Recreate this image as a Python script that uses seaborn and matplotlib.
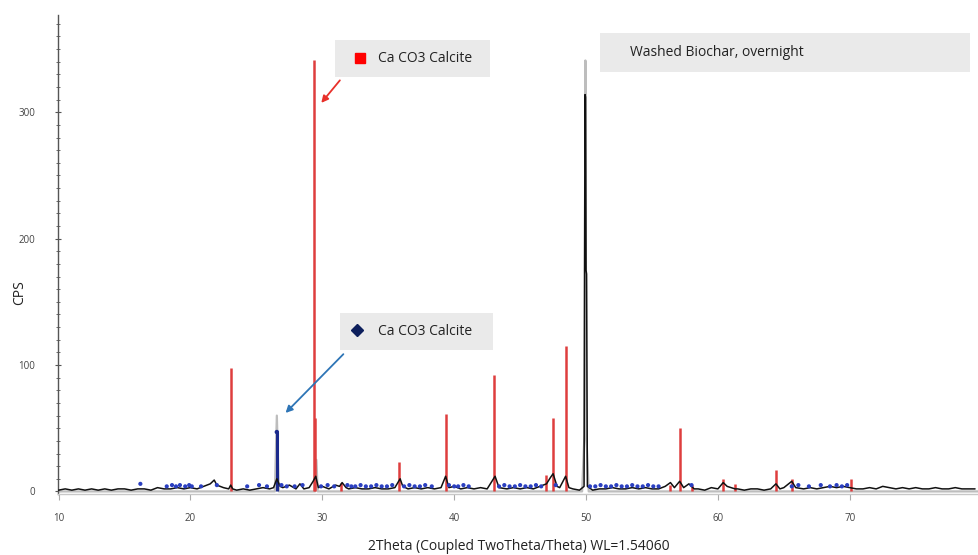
import matplotlib
matplotlib.use("Agg")
import matplotlib.pyplot as plt
import seaborn as sns
import pandas as pd
from matplotlib.patches import Rectangle
from matplotlib.ticker import MultipleLocator

# ---------------- data ----------------
obs_2theta = [10.0, 10.5, 11.0, 11.5, 12.0, 12.5, 13.0, 13.5, 14.0, 14.5, 15.0, 15.5, 16.0, 16.5,
              17.0, 17.5, 18.0, 18.5, 19.0, 19.5, 20.0, 20.5, 21.0, 21.5, 21.8, 22.0, 22.5, 22.9,
              23.05, 23.2, 23.5, 24.0, 24.5, 25.0, 25.5, 26.0, 26.3, 26.55, 26.8, 27.0, 27.5, 28.0,
              28.3, 28.6, 29.0, 29.3, 29.5, 29.7, 30.0, 30.5, 31.0, 31.3, 31.5, 31.8, 32.0, 32.5,
              33.0, 33.5, 34.0, 34.5, 35.0, 35.5, 35.9, 36.1, 36.5, 37.0, 37.5, 38.0, 38.5, 39.0,
              39.35, 39.6, 40.0, 40.5, 41.0, 41.5, 42.0, 42.5, 43.1, 43.4, 44.0, 44.5, 45.0, 45.5,
              46.0, 46.5, 47.0, 47.3, 47.5, 47.8, 48.0, 48.45, 48.7, 49.0, 49.5, 49.85, 49.92, 49.96,
              50.0, 50.04, 50.1, 50.5, 51.0, 51.5, 52.0, 52.5, 53.0, 53.5, 54.0, 54.5, 55.0, 55.5,
              56.0, 56.4, 56.7, 57.1, 57.4, 57.8, 58.2, 58.5, 59.0, 59.5, 60.0, 60.4, 60.7, 61.0,
              61.3, 61.5, 62.0, 62.5, 63.0, 63.5, 64.0, 64.4, 64.7, 65.0, 65.6, 65.9, 66.5, 67.0,
              67.5, 68.0, 68.5, 69.0, 69.5, 70.0, 70.5, 71.0, 71.5, 72.0, 72.5, 73.0, 73.5, 74.0,
              74.5, 75.0, 75.5, 76.0, 76.5, 77.0, 77.5, 78.0, 78.5, 79.0, 79.5]
obs_cps = [1, 2, 1, 2, 1, 2, 1, 2, 1, 2, 2, 1, 2, 2,
           1, 3, 2, 2, 3, 2, 3, 2, 4, 6, 9, 5, 3, 2,
           5, 2, 1, 2, 1, 2, 3, 2, 3, 10, 4, 3, 5, 2,
           6, 2, 3, 8, 12, 3, 4, 2, 5, 4, 7, 3, 2, 3,
           2, 2, 3, 2, 2, 3, 10, 4, 2, 3, 2, 3, 2, 3,
           12, 3, 4, 2, 3, 2, 3, 2, 12, 3, 2, 3, 2, 3,
           2, 4, 6, 11, 14, 4, 3, 12, 3, 2, 1, 4, 314, 312,
           175, 172, 4, 1, 2, 2, 3, 2, 2, 3, 2, 3, 2, 2,
           4, 7, 3, 8, 3, 6, 2, 2, 1, 3, 2, 7, 4, 3,
           2, 2, 1, 2, 2, 1, 2, 6, 2, 3, 8, 3, 2, 3,
           2, 3, 4, 3, 4, 3, 2, 2, 3, 2, 4, 3, 2, 3,
           2, 3, 2, 2, 3, 2, 2, 3, 2, 2, 2]

grey_2theta = [10.0, 26.4, 26.55, 26.7, 29.45, 29.55, 29.65, 49.7, 49.88, 49.95, 50.02, 50.2, 79.8]
grey_cps = [0, 0, 60, 0, 0, 25, 0, 0, 45, 341, 45, 0, 0]

calcite_2theta = [23.05, 29.35, 29.45, 31.45, 35.85, 39.35, 43.05, 47.0, 47.5, 48.45,
                  56.35, 57.15, 58.0, 60.4, 61.3, 64.4, 65.6, 70.1]
calcite_cps = [98, 341, 58, 7, 23, 61, 92, 13, 58, 115,
               5, 50, 5, 9.5, 5.5, 16.6, 9.5, 9.5]

blue_stick_2theta = [26.55]
blue_stick_cps = [47]

blue_2theta = [16.2, 18.2, 18.6, 18.9, 19.2, 19.6, 19.9, 20.1, 20.8, 22.0, 24.3, 25.2, 25.8,
               26.9, 27.3, 27.9, 28.5, 29.9, 30.4, 30.9, 31.9, 32.2, 32.5, 32.9, 33.3, 33.7,
               34.1, 34.5, 34.9, 35.3, 36.2, 36.6, 37.0, 37.4, 37.8, 38.3, 39.6, 40.0, 40.3,
               40.7, 41.1, 43.4, 43.8, 44.2, 44.6, 45.0, 45.4, 45.8, 46.2, 46.6, 47.7, 50.3,
               50.7, 51.1, 51.5, 51.9, 52.3, 52.7, 53.1, 53.5, 53.9, 54.3, 54.7, 55.1, 55.5,
               58.0, 65.6, 66.1, 66.9, 67.8, 68.5, 69.0, 69.4, 69.8]
blue_cps = [6, 4, 5, 4, 5, 4, 5, 4, 4, 5, 4, 5, 4,
            5, 4, 4, 5, 4, 5, 4, 5, 4, 4, 5, 4, 4,
            5, 4, 4, 5, 4, 5, 4, 4, 5, 4, 5, 4, 4,
            5, 4, 4, 5, 4, 4, 5, 4, 4, 5, 4, 5, 4,
            4, 5, 4, 4, 5, 4, 4, 5, 4, 4, 5, 4, 4,
            5, 4, 5, 4, 5, 4, 5, 4, 5]

x_ticks = [10, 20, 30, 40, 50, 60, 70]
y_ticks = [0, 100, 200, 300]

# ---------------- plotting ----------------
sns.set_style("white")
plt.rcParams['font.family'] = ['Open Sans', 'DejaVu Sans']

fig = plt.figure(figsize=(9.79, 5.55), dpi=100)
ax = fig.add_axes([0.0592, 0.110, 0.9408, 0.863])

df_grey = pd.DataFrame({"x": grey_2theta, "y": grey_cps})
df_obs = pd.DataFrame({"x": obs_2theta, "y": obs_cps})
df_blue = pd.DataFrame({"x": blue_2theta, "y": blue_cps})

sns.lineplot(data=df_grey, x="x", y="y", ax=ax, color="#BDBDBD", lw=1.6,
             sort=False, estimator=None)
ax.vlines(calcite_2theta, 0, calcite_cps, color="#DE3E3E", lw=1.8, zorder=3)
ax.vlines(blue_stick_2theta, 0, blue_stick_cps, color="#1B2A8C", lw=2.2, zorder=3)
sns.scatterplot(x=blue_stick_2theta, y=blue_stick_cps, ax=ax, color="#1B2A8C", s=10,
                edgecolor="none", zorder=4)
sns.lineplot(data=df_obs, x="x", y="y", ax=ax, color="#111111", lw=1.1,
             sort=False, estimator=None, zorder=4)
sns.scatterplot(data=df_blue, x="x", y="y", ax=ax, color="#2A3FC0", s=9,
                edgecolor="none", zorder=5)

ax.set_xlim(9.95, 79.8)
ax.set_ylim(-2, 377)
ax.set_xticks(x_ticks)
ax.set_yticks(y_ticks)
ax.yaxis.set_minor_locator(MultipleLocator(10))

for s in ["top", "right"]:
    ax.spines[s].set_visible(False)
ax.spines["left"].set_color("#555555")
ax.spines["left"].set_linewidth(1.0)
ax.spines["bottom"].set_color("#C8C8C8")
ax.spines["bottom"].set_linewidth(1.0)

ax.tick_params(axis="y", which="major", direction="inout", length=5, width=0.8,
               color="#555555", labelsize=7, labelcolor="#444444", pad=14, left=True)
ax.tick_params(axis="y", which="minor", direction="inout", length=3, width=0.6,
               color="#555555", left=True)
ax.tick_params(axis="x", which="major", direction="out", length=4, width=0.8,
               color="#AAAAAA", labelsize=7, labelcolor="#444444", pad=10, bottom=True)

ax.set_xlabel("2Theta (Coupled TwoTheta/Theta) WL=1.54060", fontsize=10, color="#222222")
ax.set_ylabel("CPS", fontsize=10, color="#222222")
ax.xaxis.set_label_coords(0.50, -0.094)
ax.yaxis.set_label_coords(-0.034, 0.42)

# Annotation boxes
ax.add_patch(Rectangle((0.588, 0.881), 0.402, 0.081, transform=ax.transAxes,
                       facecolor="#EAEAEA", edgecolor="none", zorder=6))
ax.text(0.621, 0.921, "Washed Biochar, overnight", transform=ax.transAxes, fontsize=10,
        color="#222222", va="center", ha="left", zorder=7)

ax.add_patch(Rectangle((0.301, 0.871), 0.168, 0.077, transform=ax.transAxes,
                       facecolor="#EAEAEA", edgecolor="none", zorder=6))
ax.plot([0.328], [0.910], marker="s", color="#FF0000", ms=7, transform=ax.transAxes,
        zorder=7, linestyle="none")
ax.text(0.347, 0.910, "Ca CO3 Calcite", transform=ax.transAxes, fontsize=10,
        color="#222222", va="center", ha="left", zorder=7)
ax.annotate("", xy=(0.284, 0.812), xytext=(0.308, 0.868), xycoords="axes fraction",
            textcoords="axes fraction",
            arrowprops=dict(arrowstyle="-|>", color="#E8302A", lw=1.3, mutation_scale=10),
            zorder=7)

ax.add_patch(Rectangle((0.306, 0.301), 0.166, 0.077, transform=ax.transAxes,
                       facecolor="#EAEAEA", edgecolor="none", zorder=6))
ax.plot([0.325], [0.342], marker="D", color="#0D1F5C", ms=6, transform=ax.transAxes,
        zorder=7, linestyle="none")
ax.text(0.347, 0.340, "Ca CO3 Calcite", transform=ax.transAxes, fontsize=10,
        color="#222222", va="center", ha="left", zorder=7)
ax.annotate("", xy=(0.245, 0.165), xytext=(0.312, 0.296), xycoords="axes fraction",
            textcoords="axes fraction",
            arrowprops=dict(arrowstyle="-|>", color="#2E75B6", lw=1.3, mutation_scale=10),
            zorder=7)

fig.savefig("out.png", dpi=100)
